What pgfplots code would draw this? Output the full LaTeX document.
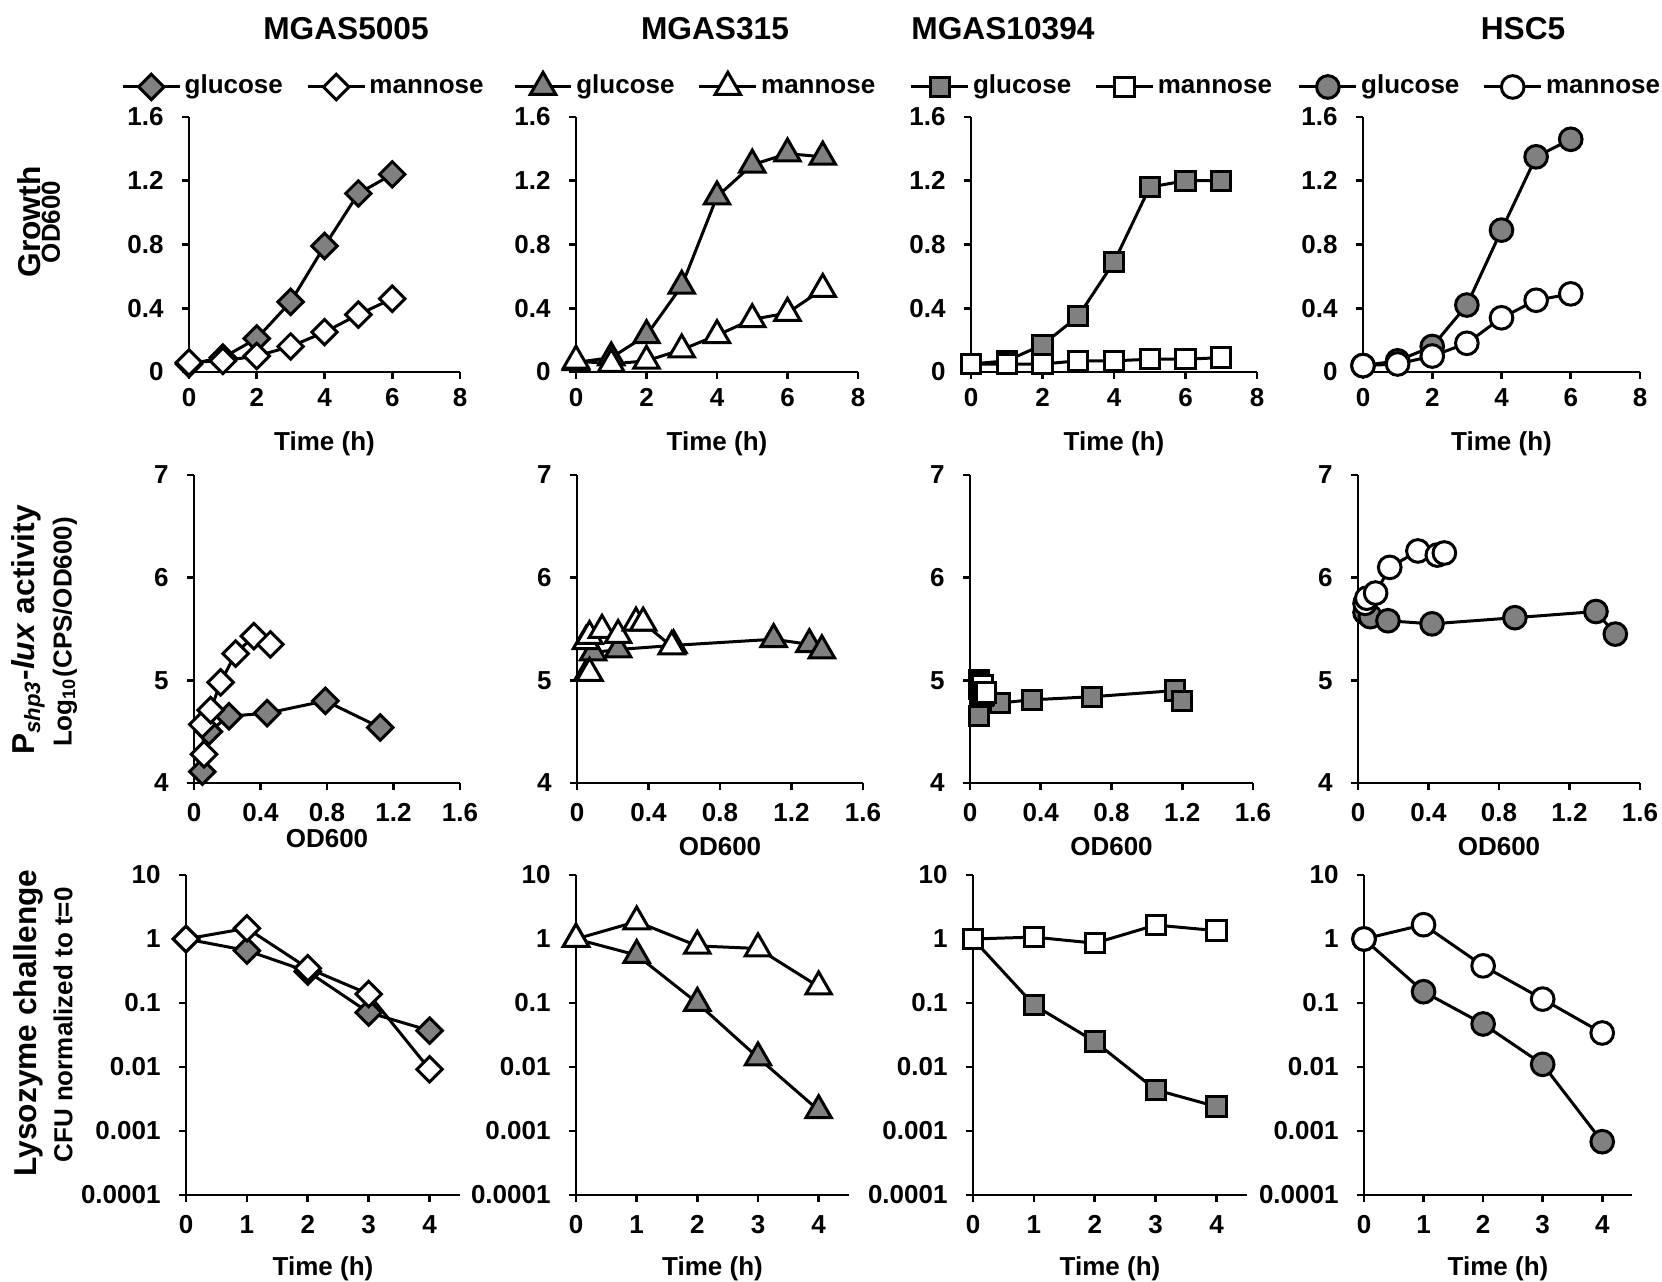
\documentclass[border=0pt]{standalone}
\usepackage{fontspec}
\setmainfont{Liberation Sans}
\usepackage{pgfplots}
\pgfplotsset{compat=1.18}

\newcommand\tk{\fontsize{7.8}{9}\selectfont\bfseries}
\newcommand\ttl{\fontsize{9.5}{11}\selectfont\bfseries}

\pgfplotsset{
  panel/.style={
    scale only axis, clip=false,
    axis x line*=bottom, axis y line*=left,
    axis line style={line width=0.8pt,-},
    tick style={line width=0.8pt,black},
    tick align=outside, major tick length=2.1pt,
    tick label style={font=\tk},
    xticklabel style={yshift=-0.5pt},
    yticklabel style={xshift=-2pt},
    label style={font=\tk},
    xlabel style={at={(axis description cs:0.5,0)},anchor=center},
  },
  growth/.style={panel, height=76.5pt, xmin=0, xmax=8, ymin=0, ymax=1.6,
    xtick={0,2,4,6,8}, xticklabels={0,2,4,6,8},
    xticklabel style={yshift=1.2pt},
    ytick={0,0.4,0.8,1.2,1.6}, yticklabels={0,0.4,0.8,1.2,1.6},
    xlabel={Time (h)}, xlabel style={yshift=-21.6pt},
    legend columns=2,
    legend style={draw=none, fill=none, font=\tk, inner sep=0pt,
      at={(axis description cs:0.425,1)}, anchor=center, yshift=9pt,
      /tikz/every even column/.append style={column sep=6pt},
      nodes={inner sep=1pt}},
  },
  lux/.style={panel, height=92.4pt, xmin=0, xmax=1.6, ymin=4, ymax=7,
    xtick={0,0.4,0.8,1.2,1.6}, xticklabels={0,0.4,0.8,1.2,1.6},
    ytick={4,5,6,7}, yticklabels={4,5,6,7},
    xlabel={OD600}, xlabel style={yshift=-19.2pt},
  },
  lyso/.style={panel, height=96pt, xmin=0, xmax=4.5,
    ymin=0.0001, ymax=10, yminorticks=false,
    xtick={0,1,2,3,4}, xticklabels={0,1,2,3,4},
    ytick={0.0001,0.001,0.01,0.1,1,10},
    yticklabels={0.0001,0.001,0.01,0.1,1,10},
    xlabel={Time (h)}, xlabel style={yshift=-22pt},
  },
  ser/.style={black, line width=0.9pt,
    every mark/.append style={solid, line width=0.9pt, draw=black}},
  glc/.style={ser, every mark/.append style={fill=gray}},
  man/.style={ser, every mark/.append style={fill=white}},
  dia/.style={mark=square*, mark size=2.7pt, every mark/.append style={rotate=45}},
  tri/.style={mark=triangle*, mark size=4.4pt},
  sqr/.style={mark=square*, mark size=2.9pt},
  cir/.style={mark=*, mark size=3.4pt},
}

\begin{document}
\begin{tikzpicture}
\useasboundingbox (0,0) rectangle (498.6pt,384.6pt);

% column titles
\node[font=\ttl] at (103.8pt,375.9pt) {MGAS5005};
\node[font=\ttl] at (214.5pt,375.9pt) {MGAS315};
\node[font=\ttl] at (300.9pt,375.9pt) {MGAS10394};
\node[font=\ttl] at (456.9pt,375.9pt) {HSC5};

% row labels
\node[font=\ttl, rotate=90] at (8.7pt,318pt) {Growth};
\node[font=\tk, rotate=90] at (15.3pt,318pt) {OD600};
\node[font=\ttl, rotate=90] at (8.4pt,195.6pt) {P\textsubscript{\itshape shp3}-\textit{lux} activity};
\node[font=\tk, rotate=90] at (19.5pt,195pt) {Log\textsubscript{10}(CPS/OD600)};
\node[font=\ttl, rotate=90] at (8.4pt,77.7pt) {Lysozyme challenge};
\node[font=\tk, rotate=90] at (18.9pt,77.1pt) {CFU normalized to t=0};

% ---- row 1: growth
\begin{axis}[growth, at={(56.7pt,273pt)}, width=81.3pt]
\addplot[glc,dia] coordinates {(0,0.05)(1,0.09)(2,0.21)(3,0.44)(4,0.79)(5,1.12)(6,1.24)};
\addplot[man,dia] coordinates {(0,0.06)(1,0.07)(2,0.10)(3,0.16)(4,0.25)(5,0.36)(6,0.46)};
\legend{glucose\vphantom{gl},mannose\vphantom{gl}}
\end{axis}
\begin{axis}[growth, at={(172.8pt,273pt)}, width=84.6pt]
\addplot[glc,tri] coordinates {(0,0.06)(1,0.09)(2,0.23)(3,0.54)(4,1.10)(5,1.30)(6,1.37)(7,1.35)};
\addplot[man,tri] coordinates {(0,0.07)(1,0.05)(2,0.07)(3,0.14)(4,0.23)(5,0.33)(6,0.37)(7,0.52)};
\legend{glucose\vphantom{gl},mannose\vphantom{gl}}
\end{axis}
\begin{axis}[growth, at={(291.3pt,273pt)}, width=85.8pt]
\addplot[glc,sqr] coordinates {(0,0.05)(1,0.07)(2,0.17)(3,0.35)(4,0.69)(5,1.16)(6,1.20)(7,1.20)};
\addplot[man,sqr] coordinates {(0,0.05)(1,0.05)(2,0.05)(3,0.07)(4,0.07)(5,0.08)(6,0.08)(7,0.09)};
\legend{glucose\vphantom{gl},mannose\vphantom{gl}}
\end{axis}
\begin{axis}[growth, at={(408.9pt,273pt)}, width=83.1pt]
\addplot[glc,cir] coordinates {(0,0.04)(1,0.07)(2,0.16)(3,0.42)(4,0.89)(5,1.35)(6,1.46)};
\addplot[man,cir] coordinates {(0,0.04)(1,0.05)(2,0.10)(3,0.18)(4,0.34)(5,0.45)(6,0.49)};
\legend{glucose\vphantom{gl},mannose\vphantom{gl}}
\end{axis}

% ---- row 2: lux activity
\begin{axis}[lux, at={(58.2pt,149.7pt)}, width=79.8pt, xlabel style={yshift=2.4pt}]
\addplot[glc,dia] coordinates {(0.05,4.11)(0.09,4.50)(0.21,4.65)(0.44,4.68)(0.79,4.80)(1.12,4.54)};
\addplot[man,dia] coordinates {(0.06,4.28)(0.05,4.57)(0.10,4.71)(0.16,4.98)(0.25,5.26)(0.36,5.43)(0.46,5.35)};
\end{axis}
\begin{axis}[lux, at={(173.1pt,149.7pt)}, width=85.8pt]
\addplot[glc,tri] coordinates {(0.06,5.08)(0.09,5.27)(0.23,5.30)(0.54,5.34)(1.10,5.40)(1.30,5.35)(1.37,5.29)};
\addplot[man,tri] coordinates {(0.07,5.07)(0.05,5.38)(0.07,5.43)(0.14,5.49)(0.23,5.44)(0.33,5.56)(0.37,5.56)(0.53,5.33)};
\end{axis}
\begin{axis}[lux, at={(291pt,149.7pt)}, width=84.9pt]
\addplot[glc,sqr] coordinates {(0.05,4.65)(0.07,4.85)(0.17,4.78)(0.35,4.81)(0.69,4.84)(1.16,4.90)(1.20,4.80)};
\addplot[man,sqr] coordinates {(0.05,4.92)(0.05,5.00)(0.05,4.98)(0.07,4.95)(0.07,4.85)(0.08,4.88)(0.08,4.86)(0.09,4.88)};
\end{axis}
\begin{axis}[lux, at={(407.4pt,149.7pt)}, width=84.6pt]
\addplot[glc,cir] coordinates {(0.04,5.66)(0.07,5.62)(0.17,5.58)(0.42,5.55)(0.89,5.61)(1.35,5.67)(1.46,5.45)};
\addplot[man,cir] coordinates {(0.04,5.75)(0.05,5.80)(0.10,5.85)(0.18,6.10)(0.34,6.26)(0.45,6.22)(0.49,6.24)};
\end{axis}

% ---- row 3: lysozyme challenge
\begin{semilogyaxis}[lyso, at={(55.8pt,26.1pt)}, width=82.2pt]
\addplot[glc,dia] coordinates {(0,1)(1,0.66)(2,0.31)(3,0.071)(4,0.037)};
\addplot[man,dia] coordinates {(0,1)(1,1.47)(2,0.35)(3,0.138)(4,0.0092)};
\end{semilogyaxis}
\begin{semilogyaxis}[lyso, at={(172.8pt,26.1pt)}, width=81.9pt]
\addplot[glc,tri] coordinates {(0,1)(1,0.56)(2,0.10)(3,0.014)(4,0.0021)};
\addplot[man,tri] coordinates {(0,1)(1,1.87)(2,0.78)(3,0.71)(4,0.18)};
\end{semilogyaxis}
\begin{semilogyaxis}[lyso, at={(291.9pt,26.1pt)}, width=82.2pt]
\addplot[glc,sqr] coordinates {(0,1)(1,0.093)(2,0.025)(3,0.0044)(4,0.0024)};
\addplot[man,sqr] coordinates {(0,1)(1,1.07)(2,0.86)(3,1.65)(4,1.35)};
\end{semilogyaxis}
\begin{semilogyaxis}[lyso, at={(409.2pt,26.1pt)}, width=80.4pt]
\addplot[glc,cir] coordinates {(0,1)(1,0.15)(2,0.047)(3,0.011)(4,0.00068)};
\addplot[man,cir] coordinates {(0,1)(1,1.67)(2,0.38)(3,0.115)(4,0.034)};
\end{semilogyaxis}
\end{tikzpicture}
\end{document}
